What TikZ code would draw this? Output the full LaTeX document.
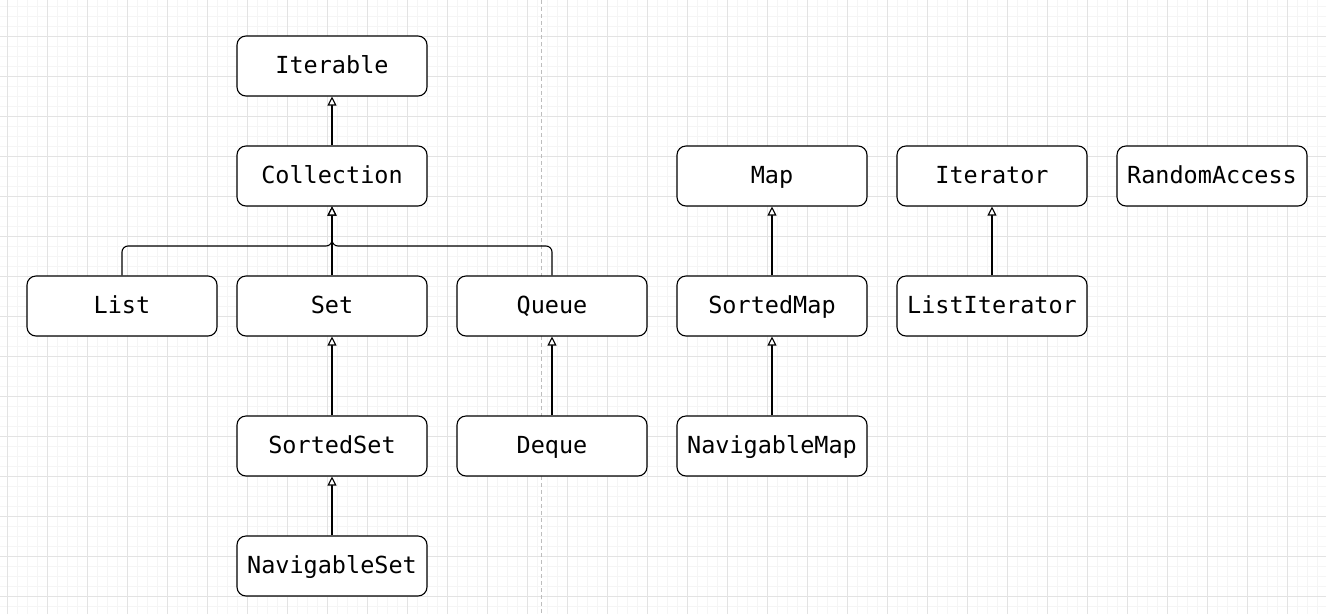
\documentclass[tikz,border=0pt]{standalone}
\usepackage{fontspec}
\setmonofont{DejaVu Sans Mono}
\usetikzlibrary{arrows.meta}
\definecolor{minorgrid}{HTML}{F5F5F5}
\definecolor{majorgrid}{HTML}{E3E3E3}
\definecolor{sepline}{HTML}{BDBDBD}
\tikzset{
  cls/.style={draw=black, line width=1.1pt, rounded corners=9pt, fill=white,
    minimum width=190pt, minimum height=60pt, inner sep=0pt,
    text height=16pt, text depth=2pt,
    font=\ttfamily\fontsize{23.5}{25}\selectfont},
  inh/.style={line width=1.1pt, draw=black,
    -{Triangle[open, length=9pt, width=9pt, fill=white]}},
}
\begin{document}
\begin{tikzpicture}[x=1pt, y=-1pt]
\useasboundingbox (0,0) rectangle (1326,614);
\fill[white] (0,0) rectangle (1326,614);
% minor grid
\foreach \x in {0,...,132} { \draw[minorgrid, line width=0.6pt] ({7+10*\x},0) -- ({7+10*\x},614); }
\foreach \y in {0,...,61} { \draw[minorgrid, line width=0.6pt] (0,{6+10*\y}) -- (1326,{6+10*\y}); }
% major grid
\foreach \x in {0,...,33} { \draw[majorgrid, line width=0.8pt] ({7+40*\x},0) -- ({7+40*\x},614); }
\foreach \y in {0,...,14} { \draw[majorgrid, line width=0.8pt] (0,{36+40*\y}) -- (1326,{36+40*\y}); }
% separator
\draw[sepline, line width=0.9pt, dash pattern=on 4pt off 3pt] (541,0) -- (541,614);

% nodes
\node[cls] (iterable) at (332,66) {Iterable};
\node[cls] (collection) at (332,176) {Collection};
\node[cls] (list) at (122,306) {List};
\node[cls] (set) at (332,306) {Set};
\node[cls] (queue) at (552,306) {Queue};
\node[cls] (sortedset) at (332,446) {SortedSet};
\node[cls] (navset) at (332,566) {NavigableSet};
\node[cls] (deque) at (552,446) {Deque};
\node[cls] (map) at (772,176) {Map};
\node[cls] (sortedmap) at (772,306) {SortedMap};
\node[cls] (navmap) at (772,446) {NavigableMap};
\node[cls] (iterator) at (992,176) {Iterator};
\node[cls] (listiter) at (992,306) {ListIterator};
\node[cls] (random) at (1212,176) {RandomAccess};

\coordinate (jl) at (122,246);
\coordinate (jr) at (552,246);
\coordinate (jc) at (332,246);

% connectors
\draw[inh] (collection.north) -- (iterable.south);
\draw[inh] (set.north) -- (collection.south);
\draw[inh, rounded corners=6pt] (list.north) -- (jl) -- (jc) -- (collection.south);
\draw[inh, rounded corners=6pt] (queue.north) -- (jr) -- (jc) -- (collection.south);
\draw[inh] (sortedset.north) -- (set.south);
\draw[inh] (navset.north) -- (sortedset.south);
\draw[inh] (deque.north) -- (queue.south);
\draw[inh] (sortedmap.north) -- (map.south);
\draw[inh] (navmap.north) -- (sortedmap.south);
\draw[inh] (listiter.north) -- (iterator.south);
\end{tikzpicture}
\end{document}
